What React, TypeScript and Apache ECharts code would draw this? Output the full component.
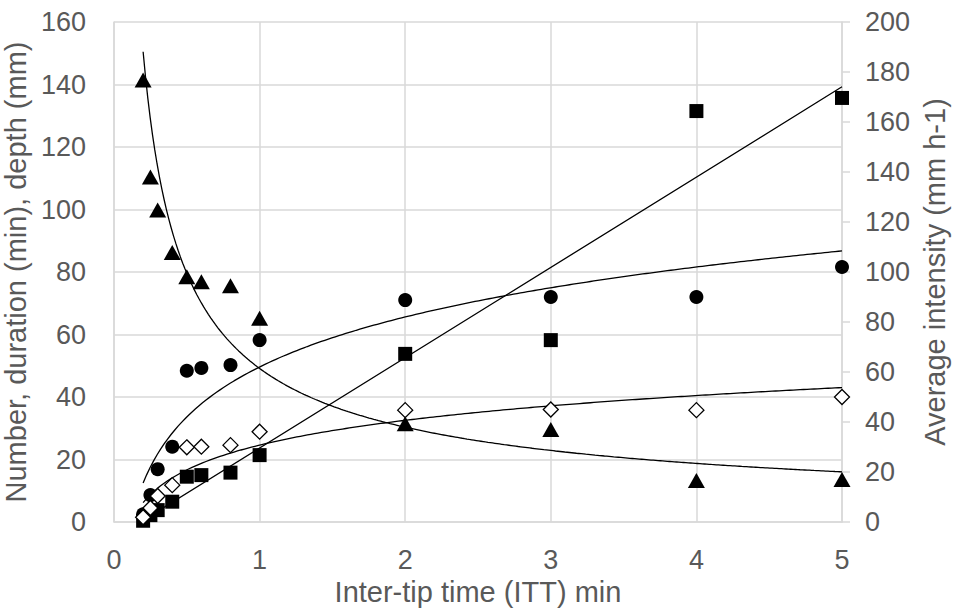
import React, { useEffect, useRef } from "react";
import * as echarts from "echarts";

const itt = [0.2, 0.25, 0.3, 0.4, 0.5, 0.6, 0.8, 1, 2, 3, 4, 5];
const duration = [0.4, 2.2, 3.8, 6.5, 14.5, 15, 15.8, 21.4, 53.8, 58.2, 131.5, 135.7];
const numberOf = [2.5, 8.6, 16.9, 24.1, 48.4, 49.3, 50.2, 58.2, 71, 72, 72, 81.6];
const depth = [1.5, 4.5, 8.3, 11.8, 23.9, 24.1, 24.6, 28.9, 35.8, 36, 35.8, 40];
const intensity = [176.8, 138, 124.8, 107.8, 98.1, 96.1, 94.5, 81.5, 39.3, 37, 16.6, 17];

const xTicks = [0, 1, 2, 3, 4, 5];
const leftTicks = [0, 20, 40, 60, 80, 100, 120, 140, 160];
const rightTicks = [0, 20, 40, 60, 80, 100, 120, 140, 160, 180, 200];

// least-squares regressions (as the original's trendlines)
function linFit(xs: number[], ys: number[]) {
  const n = xs.length;
  const mx = xs.reduce((a, b) => a + b, 0) / n;
  const my = ys.reduce((a, b) => a + b, 0) / n;
  let sxy = 0, sxx = 0;
  for (let i = 0; i < n; i++) {
    sxy += (xs[i] - mx) * (ys[i] - my);
    sxx += (xs[i] - mx) * (xs[i] - mx);
  }
  const a = sxy / sxx;
  return { a, b: my - a * mx };
}

function curve(f: (x: number) => number, x0: number, x1: number, steps: number) {
  const out: number[][] = [];
  for (let i = 0; i <= steps; i++) {
    const x = x0 + ((x1 - x0) * i) / steps;
    out.push([x, f(x)]);
  }
  return out;
}

const lnX = itt.map((v) => Math.log(v));
const durFit = linFit(itt, duration);
const numFit = linFit(lnX, numberOf);
const depFit = linFit(lnX, depth);
const intFit = linFit(lnX, intensity.map((v) => Math.log(v)));

const x0 = itt[0];
const x1 = itt[itt.length - 1];
const durLine = curve((x) => durFit.a * x + durFit.b, x0, x1, 2);
const numLine = curve((x) => numFit.a * Math.log(x) + numFit.b, x0, x1, 200);
const depLine = curve((x) => depFit.a * Math.log(x) + depFit.b, x0, x1, 200);
const intLine = curve((x) => Math.exp(intFit.b) * Math.pow(x, intFit.a), x0, x1, 300);

const GRAY = "#595959";
const FONT = "'Liberation Sans', Arial, sans-serif";
const TICK_FS = 27;
const TITLE_FS = 29;

export default function App() {
  const ref = useRef<HTMLDivElement>(null);
  useEffect(() => {
    const chart = echarts.init(ref.current!, null, { renderer: "svg" });
    const pts = (ys: number[]) => itt.map((x, i) => [x, ys[i]]);
    const trend = (data: number[][], yAxisIndex = 0) => ({
      type: "line",
      data,
      yAxisIndex,
      showSymbol: false,
      symbol: "none",
      lineStyle: { color: "#000", width: 1.3 },
      z: 3,
      silent: true,
    });
    chart.setOption({
      animation: false,
      backgroundColor: "#fff",
      textStyle: { fontFamily: FONT },
      grid: { left: 114, right: 112, top: 22, bottom: 88, containLabel: false, outerBoundsMode: "none" },
      xAxis: {
        type: "value",
        min: xTicks[0],
        max: xTicks[xTicks.length - 1],
        interval: 1,
        name: "Inter-tip time (ITT) min",
        nameLocation: "middle",
        nameGap: 55,
        nameTextStyle: { color: GRAY, fontSize: TITLE_FS, fontFamily: FONT },
        axisLine: { show: true, lineStyle: { color: "#d9d9d9", width: 1.5 } },
        axisTick: { show: false },
        axisLabel: { color: GRAY, fontSize: TICK_FS, margin: 24, fontFamily: FONT },
        splitLine: { show: true, lineStyle: { color: "#d9d9d9", width: 1.5 } },
      },
      yAxis: [
        {
          type: "value",
          min: leftTicks[0],
          max: leftTicks[leftTicks.length - 1],
          interval: 20,
          name: "Number, duration (min), depth (mm)",
          nameLocation: "middle",
          nameGap: 75,
          nameTextStyle: { color: GRAY, fontSize: TITLE_FS, fontFamily: FONT },
          axisLine: { show: true, lineStyle: { color: "#d9d9d9", width: 1.5 } },
          axisTick: { show: false },
          axisLabel: { color: GRAY, fontSize: TICK_FS, margin: 28, fontFamily: FONT },
          splitLine: { show: true, lineStyle: { color: "#d9d9d9", width: 1.5 } },
        },
        {
          type: "value",
          position: "right",
          min: rightTicks[0],
          max: rightTicks[rightTicks.length - 1],
          interval: 20,
          name: "Average intensity (mm h-1)",
          nameLocation: "middle",
          nameGap: 78,
          nameRotate: 90,
          nameTextStyle: { color: GRAY, fontSize: TITLE_FS, fontFamily: FONT },
          axisLine: { show: true, lineStyle: { color: "#d9d9d9", width: 1.5 } },
          axisTick: { show: true, length: 8, lineStyle: { color: "#d9d9d9", width: 1.5 } },
          axisLabel: { color: GRAY, fontSize: TICK_FS, margin: 23, fontFamily: FONT },
          splitLine: { show: false },
        },
      ],
      series: [
        trend(durLine),
        trend(numLine),
        trend(depLine),
        trend(intLine, 1),
        {
          type: "scatter",
          name: "Duration",
          data: pts(duration),
          symbol: "rect",
          symbolSize: 14,
          itemStyle: { color: "#000", opacity: 1 },
          z: 5,
        },
        {
          type: "scatter",
          name: "Number",
          data: pts(numberOf),
          symbol: "circle",
          symbolSize: 14,
          itemStyle: { color: "#000", opacity: 1 },
          z: 5,
        },
        {
          type: "scatter",
          name: "Depth",
          data: pts(depth),
          symbol: "diamond",
          symbolSize: 15,
          itemStyle: { color: "#fff", borderColor: "#000", borderWidth: 1.3, opacity: 1 },
          z: 5,
        },
        {
          type: "scatter",
          name: "Intensity",
          yAxisIndex: 1,
          data: pts(intensity),
          symbol: "triangle",
          symbolSize: [17, 15],
          itemStyle: { color: "#000", opacity: 1 },
          z: 5,
        },
      ],
    });
    return () => chart.dispose();
  }, []);
  return (
    <div
      ref={ref}
      style={{ position: "fixed", left: 0, top: 0, width: 954, height: 610, background: "#fff" }}
    />
  );
}
